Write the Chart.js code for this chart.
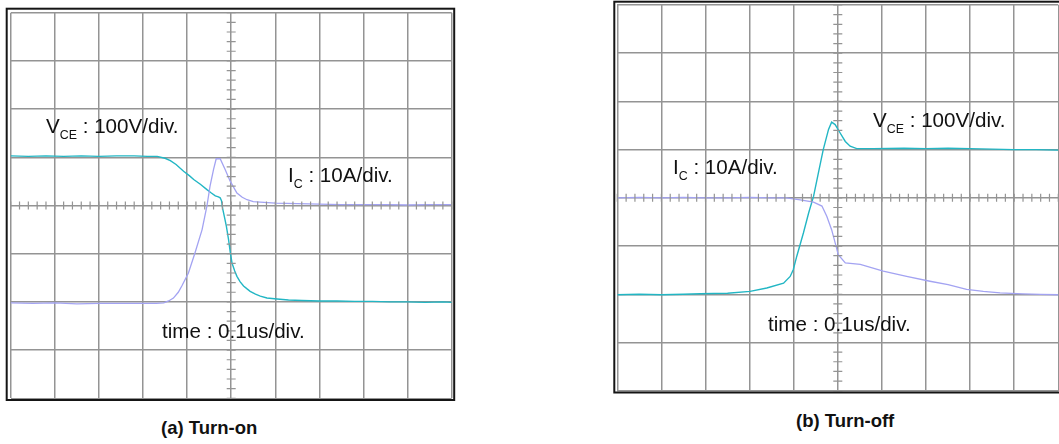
<!DOCTYPE html>
<html>
<head>
<meta charset="utf-8">
<script src="https://cdn.jsdelivr.net/npm/chart.js@4.4.1/dist/chart.umd.min.js"></script>
<style>
    body { margin: 0; background: #fff; width: 1059px; height: 444px; overflow: hidden; position: relative; font-family: "Liberation Sans", Arial, sans-serif; }
    .box { position: absolute; }
    .lbl { position: absolute; font-size: 20.6px; line-height: 20px; color: #111; white-space: nowrap; }
    .lbl .s { font-size: 12.4px; position: relative; top: 6px; }
    .cap { position: absolute; font-size: 18.5px; line-height: 20px; font-weight: bold; color: #111; white-space: nowrap; }
</style>
</head>
<body>
<div class="box" style="left:4px;top:6px;width:452px;height:397px;"><canvas id="onChart"></canvas></div>
<div class="box" style="left:612px;top:0px;width:447px;height:396px;"><canvas id="offChart"></canvas></div>

<div class="lbl" style="left:46px;top:116px;">V<span class="s">CE</span> : 100V/div.</div>
<div class="lbl" style="left:288px;top:165px;">I<span class="s">C</span> : 10A/div.</div>
<div class="lbl" style="left:162px;top:321px;">time : 0.1us/div.</div>

<div class="lbl" style="left:873px;top:110px;">V<span class="s">CE</span> : 100V/div.</div>
<div class="lbl" style="left:673px;top:157px;">I<span class="s">C</span> : 10A/div.</div>
<div class="lbl" style="left:768px;top:314px;">time : 0.1us/div.</div>

<div class="cap" style="left:161px;top:418px;">(a) Turn-on</div>
<div class="cap" style="left:796px;top:411px;">(b) Turn-off</div>

<script>
/*** Data (in screen divisions) ***/
// (a) Turn-on
const onVceX = [-5, -4.6, -4.2, -3.8, -3.4, -3.0, -2.6, -2.2, -1.9, -1.68, -1.5, -1.38, -1.25, -1.08, -0.95, -0.85, -0.7, -0.55, -0.45, -0.36, -0.29, -0.25, -0.22, -0.19, -0.15, -0.11, -0.06, -0.02, 0.02, 0.08, 0.13, 0.2, 0.28, 0.36, 0.43, 0.55, 0.66, 0.81, 1.04, 1.3, 1.6, 2.0, 2.4, 2.8, 3.2, 3.6, 4.0, 4.4, 4.8, 5.0];
const onVceY = [1.03, 1.02, 1.03, 1.02, 1.03, 1.02, 1.03, 1.03, 1.02, 1.02, 0.98, 0.93, 0.85, 0.71, 0.62, 0.54, 0.44, 0.33, 0.26, 0.2, 0.18, 0.16, 0.1, -0.08, -0.25, -0.43, -0.71, -0.98, -1.2, -1.36, -1.47, -1.58, -1.67, -1.73, -1.78, -1.84, -1.88, -1.92, -1.94, -1.96, -1.97, -1.98, -1.98, -1.99, -1.99, -2.0, -2.0, -2.01, -2.0, -2.01];
const onIcX = [-5, -4.5, -4.0, -3.5, -3.0, -2.5, -2.0, -1.7, -1.53, -1.42, -1.31, -1.2, -1.12, -0.97, -0.82, -0.66, -0.55, -0.48, -0.40, -0.34, -0.25, -0.14, -0.02, 0.13, 0.25, 0.36, 0.5, 0.66, 1.0, 1.5, 2.0, 2.5, 3.0, 3.5, 4.0, 4.5, 5.0];
const onIcY = [-2.02, -2.03, -2.02, -2.04, -2.03, -2.03, -2.03, -2.03, -2.02, -1.98, -1.92, -1.8, -1.67, -1.4, -0.98, -0.5, -0.01, 0.4, 0.75, 0.97, 0.97, 0.75, 0.5, 0.26, 0.17, 0.12, 0.08, 0.07, 0.05, 0.04, 0.03, 0.02, 0.02, 0.02, 0.01, 0.02, 0.02];

// (b) Turn-off
const offVceX = [-5, -4.5, -4.0, -3.5, -3.12, -2.5, -1.99, -1.61, -1.23, -1.08, -1.01, -0.93, -0.78, -0.66, -0.55, -0.44, -0.33, -0.21, -0.14, -0.06, 0.05, 0.17, 0.28, 0.43, 0.8, 1.5, 2.0, 2.5, 3.0, 3.5, 4.0, 4.5, 5.0];
const offVceY = [-2.01, -2.0, -2.01, -2.0, -1.99, -1.98, -1.94, -1.87, -1.77, -1.63, -1.49, -1.21, -0.73, -0.31, 0.03, 0.52, 1.0, 1.42, 1.57, 1.52, 1.35, 1.17, 1.07, 1.02, 1.02, 1.03, 1.02, 1.03, 1.02, 1.01, 1.0, 1.0, 0.99];
const offIcX = [-5, -4.5, -4.0, -3.5, -3.0, -2.5, -2.0, -1.5, -1.17, -0.85, -0.55, -0.36, -0.25, -0.14, -0.04, 0.01, 0.17, 0.51, 1.03, 1.56, 2.09, 2.5, 2.92, 3.3, 3.68, 4.2, 4.6, 5.0];
const offIcY = [0.0, 0.01, 0.0, 0.01, 0.0, 0.0, 0.01, 0.0, 0.0, -0.04, -0.09, -0.17, -0.38, -0.66, -1.0, -1.18, -1.35, -1.38, -1.52, -1.63, -1.73, -1.8, -1.9, -1.94, -1.97, -1.99, -2.0, -2.01];

const xDivs = [-5, 5];
const yDivs = [-4, 4];

/*** Styles ***/
const vceColor = "#22b6c4";
const icColor = "#a3a3f2";
const gridColor = "#949494";

function toPoints(xs, ys) {
    return xs.map((x, i) => ({ x: x, y: ys[i] }));
}

// minor ticks on the centre axes + black outer frame
const scopePlugin = {
    id: "scope",
    afterDraw(chart, args, opts) {
        const ctx = chart.ctx;
        const xs = chart.scales.x, ys = chart.scales.y;
        const cx = xs.getPixelForValue(0), cy = ys.getPixelForValue(0);
        ctx.save();
        ctx.strokeStyle = gridColor;
        ctx.lineWidth = 1.2;
        ctx.beginPath();
        for (let v = xDivs[0]; v <= xDivs[1] + 0.001; v += 0.2) {
            const px = xs.getPixelForValue(v);
            ctx.moveTo(px, cy - 4);
            ctx.lineTo(px, cy + 4);
        }
        for (let v = yDivs[0]; v <= yDivs[1] + 0.001; v += 0.2) {
            const py = ys.getPixelForValue(v);
            ctx.moveTo(cx - 4.5, py);
            ctx.lineTo(cx + 4.5, py);
        }
        ctx.stroke();
        const a = chart.chartArea;
        const f = opts.frame;
        ctx.strokeStyle = "#151515";
        ctx.lineWidth = 2;
        ctx.strokeRect(a.left - f[0], a.top - f[1], a.right - a.left + f[0] + f[2], a.bottom - a.top + f[1] + f[3]);
        ctx.restore();
    }
};

function renderScope(id, vceX, vceY, icX, icY, pad, frame) {
    const ctx = document.getElementById(id).getContext("2d");
    return new Chart(ctx, {
        type: "line",
        data: {
            datasets: [{
                label: "IC",
                data: toPoints(icX, icY),
                borderColor: icColor,
                borderWidth: 1.3,
                pointRadius: 0
            }, {
                label: "VCE",
                data: toPoints(vceX, vceY),
                borderColor: vceColor,
                borderWidth: 1.4,
                pointRadius: 0
            }]
        },
        options: {
            responsive: true,
            maintainAspectRatio: false,
            animation: false,
            layout: { padding: pad },
            plugins: {
                legend: { display: false },
                tooltip: { enabled: false },
                scope: { frame: frame }
            },
            scales: {
                x: {
                    type: "linear", min: xDivs[0], max: xDivs[1],
                    ticks: { display: false, stepSize: 1 },
                    grid: { color: gridColor, lineWidth: 1.5, drawTicks: false },
                    border: { display: false }
                },
                y: {
                    type: "linear", min: yDivs[0], max: yDivs[1],
                    ticks: { display: false, stepSize: 1 },
                    grid: { color: gridColor, lineWidth: 1.5, drawTicks: false },
                    border: { display: false }
                }
            }
        },
        plugins: [scopePlugin]
    });
}

function init() {
    renderScope("onChart", onVceX, onVceY, onIcX, onIcY,
        { left: 6.7, top: 6.7, right: 4.3, bottom: 4.7 }, [4, 4, 2.5, 1.7]);
    renderScope("offChart", offVceX, offVceY, offIcX, offIcY,
        { left: 5.3, top: 5, right: 0.7, bottom: 5.3 }, [3, 3.3, 6, 1.8]);
}
init();
</script>
</body>
</html>
